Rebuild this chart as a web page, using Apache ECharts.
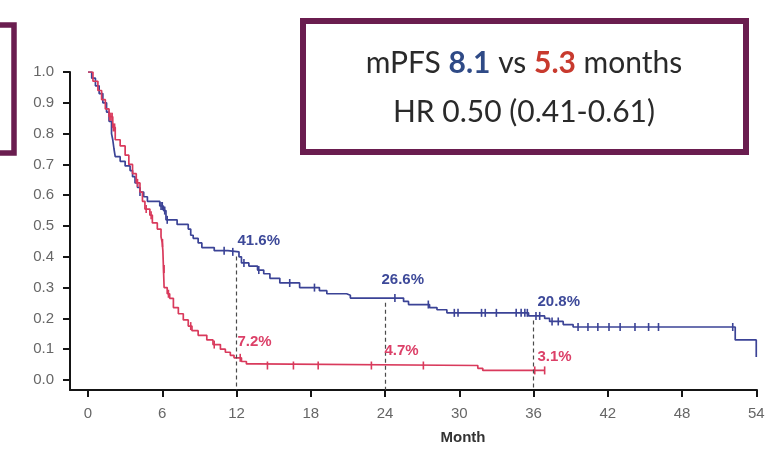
<!DOCTYPE html>
<html>
<head>
<meta charset="utf-8">
<title>PFS Kaplan-Meier</title>
<script src="https://cdn.jsdelivr.net/npm/echarts@6/dist/echarts.min.js"></script>
<style>
  html, body { margin: 0; padding: 0; background: #ffffff; }
  #chart { width: 769px; height: 449px; }
</style>
</head>
<body>
<div id="chart"></div>
<script>
// Kaplan-Meier progression-free survival, two arms.
// Each knot is [month, survival after the event at that month].
const blueKnots = [
  [0, 1.0], [0.3, 0.98], [0.6, 0.955], [0.9, 0.93], [1.2, 0.90], [1.5, 0.87],
  [1.7, 0.84], [1.9, 0.80], [2.0, 0.78], [2.1, 0.75], [2.2, 0.725], [2.6, 0.71],
  [3.0, 0.695], [3.4, 0.68], [3.6, 0.66], [3.8, 0.64], [4.0, 0.625], [4.2, 0.61],
  [4.5, 0.595], [4.8, 0.58], [5.8, 0.565], [6.1, 0.55], [6.3, 0.52], [7.2, 0.505],
  [8.1, 0.49], [8.3, 0.47], [8.5, 0.46], [8.9, 0.445], [9.2, 0.43], [10.2, 0.42],
  [11.3, 0.416], [12.2, 0.40], [12.4, 0.38], [13.0, 0.37], [13.7, 0.357],
  [14.2, 0.345], [14.7, 0.33], [15.5, 0.315], [17.1, 0.30], [18.7, 0.29],
  [19.3, 0.28], [20.9, 0.275], [21.2, 0.266], [25.5, 0.255], [25.9, 0.245],
  [27.6, 0.235], [28.2, 0.228], [29.0, 0.218], [35.6, 0.208], [36.9, 0.20],
  [37.3, 0.19], [38.4, 0.18], [39.2, 0.172], [52.3, 0.13], [54.0, 0.075]
];
const redKnots = [
  [0, 1.0], [0.4, 0.97], [0.8, 0.94], [1.1, 0.91], [1.4, 0.88], [1.7, 0.855],
  [2.0, 0.82], [2.2, 0.78], [2.6, 0.76], [3.0, 0.73], [3.3, 0.70], [3.6, 0.67],
  [3.9, 0.64], [4.2, 0.61], [4.4, 0.58], [4.6, 0.555], [5.0, 0.535], [5.2, 0.51],
  [5.6, 0.49], [5.9, 0.465], [6.0, 0.445], [6.05, 0.42], [6.1, 0.36], [6.15, 0.30],
  [6.4, 0.28], [6.6, 0.265], [6.9, 0.235], [7.3, 0.215], [7.7, 0.195], [8.1, 0.175],
  [8.4, 0.16], [8.9, 0.145], [9.6, 0.13], [10.1, 0.115], [10.7, 0.10], [11.1, 0.09],
  [11.5, 0.08], [11.8, 0.072], [12.4, 0.06], [12.8, 0.052], [13.6, 0.047],
  [31.5, 0.038], [31.9, 0.031], [36.9, 0.031]
];

// Censoring times (months)
const blueCensored = [4.2, 5.9, 6.0, 6.2, 6.4, 11.0, 11.7, 12.6, 13.8, 16.3, 18.3,
  24.8, 27.5, 29.6, 29.9, 31.8, 32.1, 33.0, 34.6, 35.0, 35.3, 35.5, 36.2, 36.5,
  37.5, 38.0, 39.6, 40.4, 41.2, 42.1, 43.0, 44.2, 45.3, 46.1, 52.1];
const redCensored = [1.75, 1.85, 1.95, 2.05, 2.15, 4.0, 4.7, 5.1, 6.02, 6.12, 6.14,
  6.5, 8.3, 10.2, 12.3, 14.5, 16.6, 18.6, 22.9, 27.1, 36.1, 36.9];

// Landmark survival rates
const landmarkMonths = [12, 24, 36];
const blueLandmarks = [0.416, 0.266, 0.208];
const redLandmarks = [0.072, 0.047, 0.031];

// Axis ticks
const xTicks = [0, 6, 12, 18, 24, 30, 36, 42, 48, 54];
const yTicks = [0.0, 0.1, 0.2, 0.3, 0.4, 0.5, 0.6, 0.7, 0.8, 0.9, 1.0];

// Headline statistics
const medianBlue = '8.1';
const medianRed = '5.3';
const hazardText = 'HR 0.50 (0.41-0.61)';

const BLUE = '#3b4396';
const RED = '#d93a5c';
const X_MIN = -1.455, X_MAX = 54.06;
const Y_MIN = -0.0325, Y_MAX = 1.0;

function survivalAt(knots, t) {
  let s = knots[0][1];
  for (const k of knots) { if (k[0] <= t) s = k[1]; else break; }
  return s;
}

const pct = v => (v * 100).toFixed(1) + '%';

// label anchor offsets (px) relative to each landmark point
const blueLabelOffsets = [[1.5, -11], [-3, -18], [4.5, -14]];
const redLabelOffsets = [[1.5, -15], [0, -14], [4.5, -13]];

function landmarkSeries(values, color, offsets) {
  return {
    type: 'scatter',
    symbolSize: 1,
    itemStyle: { color: 'rgba(0,0,0,0)', opacity: 1 },
    silent: true,
    z: 5,
    data: landmarkMonths.map((m, i) => ({
      value: [m, values[i]],
      label: {
        show: true,
        position: offsets[i],
        align: 'left',
        verticalAlign: 'middle',
        formatter: p => pct(p.value[1]),
        color: color,
        opacity: 1,
        fontFamily: 'Liberation Sans, Arial, sans-serif',
        fontWeight: 'bold',
        fontSize: 15
      }
    }))
  };
}

const chart = echarts.init(document.getElementById('chart'), null, { renderer: 'canvas' });

chart.setOption({
  animation: false,
  backgroundColor: '#ffffff',
  grid: { left: 70, right: 12, top: 72, bottom: 59 },
  xAxis: {
    type: 'value',
    min: X_MIN,
    max: X_MAX,
    axisLine: { show: true, onZero: false, lineStyle: { color: '#151515', width: 2 } },
    axisTick: { show: true, customValues: xTicks, length: 7, lineStyle: { color: '#151515', width: 2 } },
    axisLabel: {
      customValues: xTicks, color: '#666666', fontSize: 15, margin: 16,
      fontFamily: 'Liberation Sans, Arial, sans-serif'
    },
    splitLine: { show: false }
  },
  yAxis: {
    type: 'value',
    min: Y_MIN,
    max: Y_MAX,
    axisLine: { show: true, onZero: false, lineStyle: { color: '#151515', width: 2 } },
    axisTick: { show: true, customValues: yTicks, length: 7, lineStyle: { color: '#151515', width: 2 } },
    axisLabel: {
      customValues: yTicks, color: '#666666', fontSize: 15, margin: 16,
      fontFamily: 'Liberation Sans, Arial, sans-serif',
      formatter: v => v.toFixed(1)
    },
    splitLine: { show: false }
  },
  series: [
    {
      name: 'Experimental',
      type: 'line',
      step: 'end',
      showSymbol: false,
      data: blueKnots,
      lineStyle: { color: BLUE, width: 1.7 },
      itemStyle: { color: BLUE },
      z: 3,
      markLine: {
        silent: true,
        symbol: 'none',
        label: { show: false },
        lineStyle: { color: '#4a4a4a', type: [4, 3], width: 1.2 },
        data: landmarkMonths.map((m, i) => [
          { coord: [m, blueLandmarks[i] - 0.015] },
          { coord: [m, Y_MIN] }
        ])
      }
    },
    {
      name: 'Control',
      type: 'line',
      step: 'end',
      showSymbol: false,
      data: redKnots,
      lineStyle: { color: RED, width: 1.7 },
      itemStyle: { color: RED },
      z: 4
    },
    {
      type: 'scatter',
      symbol: 'rect',
      symbolSize: [1.6, 8],
      itemStyle: { color: BLUE, opacity: 1 },
      silent: true,
      z: 3,
      data: blueCensored.map(t => [t, survivalAt(blueKnots, t)])
    },
    {
      type: 'scatter',
      symbol: 'rect',
      symbolSize: [1.6, 8],
      itemStyle: { color: RED, opacity: 1 },
      silent: true,
      z: 4,
      data: redCensored.map(t => [t, survivalAt(redKnots, t)])
    },
    landmarkSeries(blueLandmarks, '#3d4999', blueLabelOffsets),
    landmarkSeries(redLandmarks, '#dc4068', redLabelOffsets)
  ],
  graphic: [
    // edge of the neighbouring panel frame
    {
      type: 'rect',
      shape: { x: -200, y: 25, width: 214, height: 128 },
      style: { fill: 'none', stroke: '#6a1d4f', lineWidth: 5.5 },
      silent: true
    },
    // statistics box
    {
      type: 'rect',
      shape: { x: 303, y: 21, width: 443, height: 131 },
      style: { fill: '#ffffff', stroke: '#6a1d4f', lineWidth: 6 },
      silent: true,
      z: 10
    },
    {
      type: 'text',
      x: 524, y: 63, z: 11, silent: true,
      style: {
        text: '{n|mPFS }{b|' + medianBlue + '}{n| vs }{r|' + medianRed + '}{n| months}',
        align: 'center',
        verticalAlign: 'middle',
        rich: {
          n: { fontFamily: 'Lato', fontSize: 30, fill: '#2a2a2a' },
          b: { fontFamily: 'Lato', fontSize: 30, fontWeight: 'bold', fill: '#2f4a86' },
          r: { fontFamily: 'Lato', fontSize: 30, fontWeight: 'bold', fill: '#c83a2e' }
        }
      }
    },
    {
      type: 'text',
      x: 524, y: 112, z: 11, silent: true,
      style: {
        text: hazardText,
        align: 'center',
        verticalAlign: 'middle',
        fontFamily: 'Lato', fontSize: 30, fill: '#2a2a2a'
      }
    },
    {
      type: 'text',
      x: 463, y: 438, silent: true,
      style: {
        text: 'Month',
        align: 'center',
        verticalAlign: 'middle',
        fontFamily: 'Liberation Sans, Arial, sans-serif',
        fontWeight: 'bold', fontSize: 15, fill: '#333333'
      }
    }
  ]
});
</script>
</body>
</html>
